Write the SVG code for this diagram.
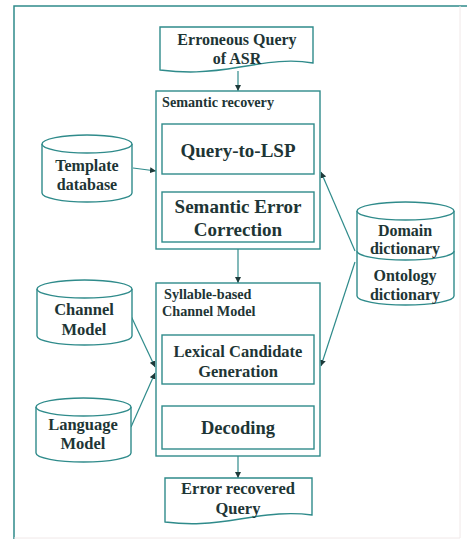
<svg xmlns="http://www.w3.org/2000/svg" width="467" height="540" viewBox="0 0 467 540">
<defs>
<marker id="ah" viewBox="0 0 10 10" refX="10" refY="5" markerWidth="6" markerHeight="6" orient="auto" markerUnits="userSpaceOnUse">
<path d="M0,0 L10,5 L0,10 Z" fill="#1e3a3a"/>
</marker>
<style>
.s{fill:#ffffff;stroke:#2f8b8b;stroke-width:1.4}
.c{fill:none;stroke:#2f8b8b;stroke-width:1.2;marker-end:url(#ah)}
.t{font-family:"Liberation Serif","Times New Roman",serif;font-weight:bold;fill:#1e3535;text-anchor:middle}
.l{font-family:"Liberation Serif","Times New Roman",serif;font-weight:bold;fill:#1e3535;font-size:14.2px}
</style>
</defs>
<rect width="467" height="540" fill="#ffffff"/>
<g id="frame">
<path d="M14,539 V6 H467" fill="none" stroke="#2f8b8b" stroke-width="1.5"/>
<path d="M460,6 V538 H14" fill="none" stroke="#f0e8e8" stroke-width="1"/>
</g>
<g id="connectors">
<line class="c" x1="238" y1="71" x2="238" y2="91"/>
<line class="c" x1="133" y1="168" x2="156" y2="171"/>
<line class="c" x1="238" y1="174" x2="238" y2="192"/>
<line class="c" x1="238" y1="249" x2="238" y2="283"/>
<line class="c" x1="355" y1="251" x2="321" y2="172"/>
<line class="c" x1="355" y1="262" x2="321" y2="366"/>
<line class="c" x1="131" y1="316" x2="155" y2="367"/>
<line class="c" x1="131" y1="427" x2="155" y2="373"/>
<line class="c" x1="238" y1="384" x2="238" y2="406"/>
<line class="c" x1="238" y1="456" x2="238" y2="478"/>
</g>
<g id="erroneous-query">
<path class="s" d="M160,27 H313 V63 C290,59 270,62 240,67 C205,73 185,73 160,70 Z"/>
<text class="t" x="237" y="45" font-size="16px">Erroneous Query</text>
<text class="t" x="237" y="64" font-size="16px">of ASR</text>
</g>
<g id="semantic-recovery">
<rect class="s" x="156" y="91" width="164" height="158"/>
<text class="l" x="162" y="107">Semantic recovery</text>
</g>
<g id="query-to-lsp">
<rect class="s" x="162" y="124" width="152" height="50"/>
<text class="t" x="238" y="156.5" font-size="19px">Query-to-LSP</text>
</g>
<g id="semantic-error-correction">
<rect class="s" x="162" y="192" width="152" height="50"/>
<text class="t" x="238" y="212.5" font-size="19px">Semantic Error</text>
<text class="t" x="238" y="235.5" font-size="19px">Correction</text>
</g>
<g id="template-database">
<path class="s" d="M42,144 A45,9 0 0 1 132,144 V193 A45,9 0 0 1 42,193 Z"/>
<path class="s" fill="none" d="M42,144 A45,9 0 0 0 132,144"/>
<text class="t" x="87" y="171" font-size="16px">Template</text>
<text class="t" x="87" y="190" font-size="16px">database</text>
</g>
<g id="domain-ontology-dictionary">
<path class="s" d="M357,211 A48.5,9 0 0 1 454,211 V296 A48.5,9 0 0 1 357,296 Z"/>
<path class="s" fill="none" d="M357,211 A48.5,9 0 0 0 454,211"/>
<path class="s" fill="none" d="M357,251 A48.5,9 0 0 0 454,251"/>
<text class="t" x="405" y="236" font-size="16px">Domain</text>
<text class="t" x="405" y="254" font-size="16px">dictionary</text>
<text class="t" x="405" y="281" font-size="16px">Ontology</text>
<text class="t" x="405" y="300" font-size="16px">dictionary</text>
</g>
<g id="syllable-channel-model">
<rect class="s" x="156" y="283" width="164" height="173"/>
<text class="l" x="164" y="299">Syllable-based</text>
<text class="l" x="162" y="316">Channel Model</text>
</g>
<g id="lexical-candidate-generation">
<rect class="s" x="162" y="335" width="152" height="49"/>
<text class="t" x="238" y="357" font-size="16.5px">Lexical Candidate</text>
<text class="t" x="238" y="377" font-size="16.5px">Generation</text>
</g>
<g id="decoding">
<rect class="s" x="162" y="406" width="152" height="43"/>
<text class="t" x="238" y="434" font-size="18.5px">Decoding</text>
</g>
<g id="channel-model">
<path class="s" d="M37,289 A47.5,9 0 0 1 132,289 V336 A47.5,9 0 0 1 37,336 Z"/>
<path class="s" fill="none" d="M37,289 A47.5,9 0 0 0 132,289"/>
<text class="t" x="84" y="315" font-size="16.5px">Channel</text>
<text class="t" x="84" y="335" font-size="16.5px">Model</text>
</g>
<g id="language-model">
<path class="s" d="M36,407 A47.5,9 0 0 1 131,407 V453 A47.5,9 0 0 1 36,453 Z"/>
<path class="s" fill="none" d="M36,407 A47.5,9 0 0 0 131,407"/>
<text class="t" x="83" y="430" font-size="16.5px">Language</text>
<text class="t" x="83" y="449" font-size="16.5px">Model</text>
</g>
<g id="error-recovered-query">
<path class="s" d="M165,478 H312 V515 C290,512 270,514 240,519 C210,524 190,525 165,522 Z"/>
<text class="t" x="238" y="494" font-size="16.5px">Error recovered</text>
<text class="t" x="238" y="514" font-size="16.5px">Query</text>
</g>
</svg>
